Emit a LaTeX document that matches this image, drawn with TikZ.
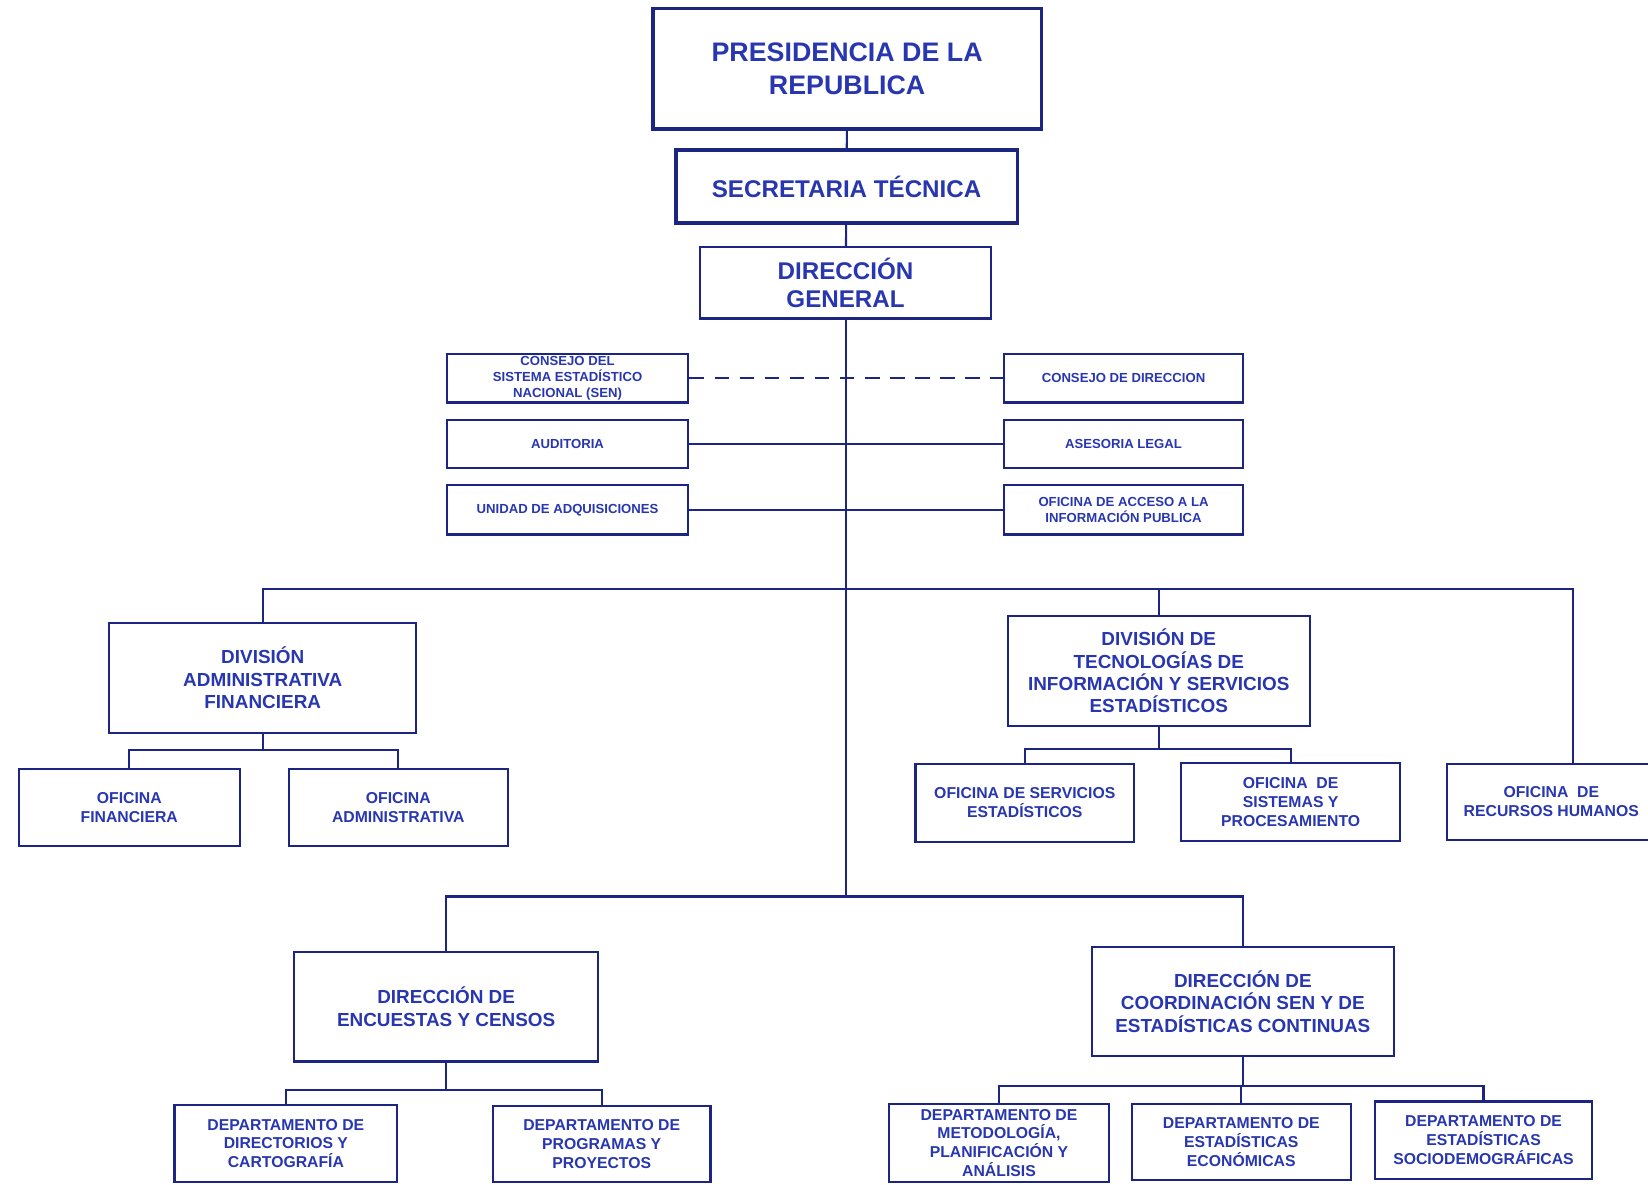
\documentclass[tikz,border=0pt]{standalone}
\usepackage{fontspec}
\setmainfont{Liberation Sans}
\definecolor{linec}{RGB}{28,38,130}
\definecolor{textc}{RGB}{40,55,175}
\tikzset{
  box/.style={draw=linec, line width=2pt, text=textc, align=center, inner sep=0pt, rectangle},
  thick box/.style={box, line width=3.5pt},
  sz/.style 2 args={minimum width=#1pt, minimum height=#2pt},
  fbig/.style={font=\fontsize{25.5}{31}\selectfont\bfseries},
  fmed/.style={font=\fontsize{23}{27}\selectfont\bfseries},
  fdiv/.style={font=\fontsize{18}{21.3}\selectfont\bfseries},
  fsm/.style={font=\fontsize{15}{18}\selectfont\bfseries},
  ftiny/.style={font=\fontsize{12.5}{15.5}\selectfont\bfseries},
  conn/.style={draw=linec, line width=2pt},
}
\begin{document}
\begin{tikzpicture}[x=1pt,y=-1pt]
\fill[white] (0,0) rectangle (1568,1127);
\useasboundingbox (0,0) rectangle (1568,1127);

% top chain
\node[thick box, fbig, sz={370}{115}] (pres) at (806,65.5) {PRESIDENCIA DE LA\\REPUBLICA};
\node[thick box, fmed, sz={325}{69}] (sec) at (805.5,177.5) {SECRETARIA TÉCNICA};
\node[box, fmed, sz={277}{68}] (dg) at (804.5,269) {DIRECCIÓN\\GENERAL};

% staff units
\node[box, ftiny, sz={230}{46}] (csen) at (540,360) {CONSEJO DEL\\SISTEMA ESTADÍSTICO\\NACIONAL (SEN)};
\node[box, ftiny, sz={228}{46}] (cdir) at (1069,360) {CONSEJO DE DIRECCION};
\node[box, ftiny, sz={230}{46}] (aud) at (540,422.5) {AUDITORIA};
\node[box, ftiny, sz={228}{46}] (ase) at (1069,422.5) {ASESORIA LEGAL};
\node[box, ftiny, sz={230}{47}] (uad) at (540,485) {UNIDAD DE ADQUISICIONES};
\node[box, ftiny, sz={228}{47}] (oai) at (1069,485) {OFICINA DE ACCESO A LA\\INFORMACIÓN PUBLICA};

% divisions
\node[box, fdiv, sz={292}{104}] (daf) at (250,645) {DIVISIÓN\\ADMINISTRATIVA\\FINANCIERA};
\node[box, fsm, sz={210}{73}] (ofin) at (123,768.5) {OFICINA\\FINANCIERA};
\node[box, fsm, sz={208}{73}] (oadm) at (379,768.5) {OFICINA\\ADMINISTRATIVA};
\node[box, fdiv, sz={287}{105}] (dti) at (1102.5,638.5) {DIVISIÓN DE\\TECNOLOGÍAS DE\\INFORMACIÓN Y SERVICIOS\\ESTADÍSTICOS};
\node[box, fsm, sz={208}{74}] (oserv) at (975,764) {OFICINA DE SERVICIOS\\ESTADÍSTICOS};
\node[box, fsm, sz={208}{74}] (osis) at (1228,763) {OFICINA~~DE\\SISTEMAS Y\\PROCESAMIENTO};
\node[box, fsm, sz={198}{72}] (orh) at (1476,763) {OFICINA~~DE\\RECURSOS HUMANOS};

% direcciones
\node[box, fdiv, sz={289}{104}] (dec) at (424.5,958) {DIRECCIÓN DE\\ENCUESTAS Y CENSOS};
\node[box, fdiv, sz={287}{104}] (dcsen) at (1182.5,953) {DIRECCIÓN DE\\COORDINACIÓN SEN Y DE\\ESTADÍSTICAS CONTINUAS};
\node[box, fsm, sz={212}{74}] (ddir) at (272,1088) {DEPARTAMENTO DE\\DIRECTORIOS Y\\CARTOGRAFÍA};
\node[box, fsm, sz={207}{73}] (dprog) at (572.5,1088.5) {DEPARTAMENTO DE\\PROGRAMAS Y\\PROYECTOS};
\node[box, fsm, sz={209}{75}] (dmet) at (950.5,1087.5) {DEPARTAMENTO DE\\METODOLOGÍA,\\PLANIFICACIÓN Y\\ANÁLISIS};
\node[box, fsm, sz={208}{73}] (deco) at (1181,1086.5) {DEPARTAMENTO DE\\ESTADÍSTICAS\\ECONÓMICAS};
\node[box, fsm, sz={207}{74}] (dsoc) at (1411.5,1085) {DEPARTAMENTO DE\\ESTADÍSTICAS\\SOCIODEMOGRÁFICAS};

% connectors
\coordinate (lowbus) at (804.5,853);
\coordinate (busR) at (1497,560);
\coordinate (dafbus) at (250,714);
\coordinate (dtibus) at (1102.5,713);
\coordinate (decbus) at (424.5,1037);
\coordinate (dcbus) at (1182.5,1033);

\draw[conn] (pres) -- (sec);
\draw[conn] (sec) -- (dg);
\draw[conn] (dg.south) -- (lowbus);
\draw[conn, dash pattern=on 14pt off 9.83pt] (csen.east) -- (cdir.west);
\draw[conn] (aud.east) -- (ase.west);
\draw[conn] (uad.east) -- (oai.west);

\draw[conn] (daf.north) |- (busR) -- (busR |- orh.north);
\draw[conn] (dti.north) -- (dti.north |- busR);
\draw[conn] (daf.south) -- (dafbus);
\draw[conn] (ofin.north) |- (dafbus) -| (oadm.north);
\draw[conn] (dti.south) -- (dtibus);
\draw[conn] (oserv.north) |- (dtibus) -| (osis.north);

\draw[conn] (dec.north) |- (lowbus) -| (dcsen.north);
\draw[conn] (dec.south) -- (decbus);
\draw[conn] (ddir.north) |- (decbus) -| (dprog.north);
\draw[conn] (dcsen.south) -- (dcbus);
\draw[conn] (dmet.north) |- (dcbus) -| (dsoc.north);
\draw[conn] (deco.north) -- (deco.north |- dcbus);
\end{tikzpicture}
\end{document}
